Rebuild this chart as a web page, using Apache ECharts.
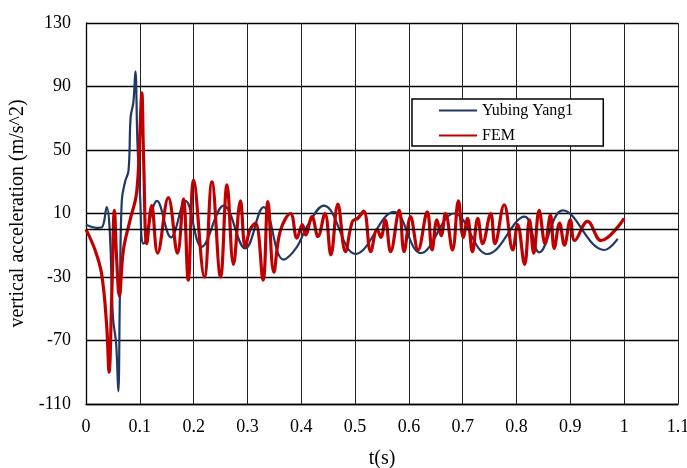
<!DOCTYPE html>
<html>
<head>
<meta charset="utf-8">
<script src="https://cdn.jsdelivr.net/npm/echarts@6/dist/echarts.min.js"></script>
<style>
html,body{margin:0;padding:0;background:#fff;}
#chart{width:687px;height:468px;}
</style>
</head>
<body>
<div id="chart"></div>
<script>
// Yubing Yang1 (time s, acceleration m/s^2)
const blueT = [0, 0.02, 0.03, 0.0385, 0.044, 0.05, 0.056, 0.06, 0.063, 0.0665, 0.0726, 0.079, 0.083, 0.088, 0.0918, 0.0956, 0.1006, 0.107, 0.132, 0.158, 0.185, 0.215, 0.256, 0.296, 0.33, 0.367, 0.392, 0.411, 0.442, 0.501, 0.572, 0.622, 0.684, 0.746, 0.815, 0.842, 0.886, 0.963, 0.988];
const blueV = [3, 1, 1.5, 14, 0, -55, -72, -102, -40, 18, 30, 37, 71, 80, 99.5, 54, 20, -9, 18, -5, 18, -11, 15, -12, 14, -19, -11, 2, 15, -15.5, 11, -15, 10, -15.5, 8, -14.5, 12, -13, -6];
// FEM
const redT = [0, 0.0168, 0.029, 0.0385, 0.0428, 0.048, 0.0528, 0.057, 0.062, 0.0695, 0.082, 0.094, 0.1, 0.1037, 0.107, 0.113, 0.122, 0.133, 0.153, 0.17, 0.181, 0.19, 0.2, 0.22, 0.234, 0.25, 0.262, 0.274, 0.287, 0.296, 0.305, 0.315, 0.329, 0.338, 0.349, 0.361, 0.38, 0.392, 0.402, 0.408, 0.42, 0.431, 0.444, 0.455, 0.468, 0.482, 0.495, 0.505, 0.516, 0.529, 0.541, 0.548, 0.556, 0.566, 0.582, 0.591, 0.603, 0.617, 0.634, 0.643, 0.652, 0.66, 0.668, 0.681, 0.692, 0.701, 0.709, 0.718, 0.728, 0.737, 0.752, 0.76, 0.777, 0.793, 0.802, 0.815, 0.824, 0.832, 0.842, 0.853, 0.863, 0.87, 0.88, 0.889, 0.9, 0.908, 0.932, 0.957, 1.0];
const redV = [0, -13, -28, -61, -90, -40, 12, -19, -42, -13, 6, 23, 60, 86, 45, -9, 15, -15, 20, -15, 19, -32, 31, -30, 30, -30, 28, -22, 18, -11, 0, 4, -32, 17.5, -27, -1, 10, -5.5, 3, -3.5, 8, -4.5, 10, -16, 16, -14, 5, 7, 11.5, -14, 0, -5, 6, -14, 12, -14, 8, -13, 11, -13, 6, -4, 10, -13, 18, -5, 7, -14, 7, -9, 10, -9, 15.5, -13, 3, -22, 6, -15, 12, -9, 9, -12, 4, -10, 6, -7, 5, -7, 7];

const seriesNames = ['Yubing Yang1', 'FEM'];
const xTitle = 't(s)';
const yTitle = 'vertical acceleration (m/s^2)';

const font = '"Liberation Serif", "Times New Roman", serif';
const pairs = (t, v) => t.map((x, i) => [x, v[i]]);

const chart = echarts.init(document.getElementById('chart'), null, {renderer: 'canvas'});
chart.setOption({
  animation: false,
  backgroundColor: '#fff',
  grid: {left: 86, right: 9, top: 23, bottom: 64, containLabel: false, outerBoundsMode: 'none'},
  legend: {
    left: 412, top: 99,
    orient: 'vertical',
    data: seriesNames,
    itemWidth: 38, itemHeight: 3, itemGap: 8,
    padding: [3, 30, 2, 26],
    borderColor: '#000', borderWidth: 1.5,
    backgroundColor: '#fff',
    itemStyle: {opacity: 0},
    textStyle: {fontFamily: font, fontSize: 16, color: '#000', lineHeight: 17}
  },
  xAxis: {
    type: 'value', min: 0, max: 1.1, interval: 0.1,
    name: xTitle, nameLocation: 'middle', nameGap: 45,
    nameTextStyle: {fontFamily: font, fontSize: 20, color: '#000'},
    axisLine: {onZero: false, lineStyle: {color: '#000', width: 1.3}},
    axisTick: {show: false},
    axisLabel: {fontFamily: font, fontSize: 18, color: '#000', margin: 14},
    splitLine: {show: true, lineStyle: {color: '#222', width: 1}}
  },
  yAxis: {
    type: 'value', min: -110, max: 130, interval: 40,
    name: yTitle, nameLocation: 'middle', nameGap: 53,
    nameTextStyle: {fontFamily: font, fontSize: 20, color: '#000'},
    axisLine: {show: true, lineStyle: {color: '#000', width: 1.3}},
    axisTick: {show: false},
    axisLabel: {fontFamily: font, fontSize: 18, color: '#000', margin: 15},
    splitLine: {show: true, lineStyle: {color: '#000', width: 1.3}}
  },
  series: [
    {
      name: seriesNames[0], type: 'line', data: pairs(blueT, blueV),
      smooth: 0.4, symbol: 'none', z: 3,
      lineStyle: {color: '#203864', width: 2.2},
      itemStyle: {color: '#203864'},
      markLine: {
        silent: true, symbol: 'none', label: {show: false},
        lineStyle: {color: '#000', width: 1.3, type: 'solid'},
        data: [{yAxis: 0}]
      }
    },
    {
      name: seriesNames[1], type: 'line', data: pairs(redT, redV),
      smooth: 0.4, symbol: 'none', z: 4,
      lineStyle: {color: '#C00000', width: 3.2},
      itemStyle: {color: '#C00000'}
    }
  ]
});
</script>
</body>
</html>
